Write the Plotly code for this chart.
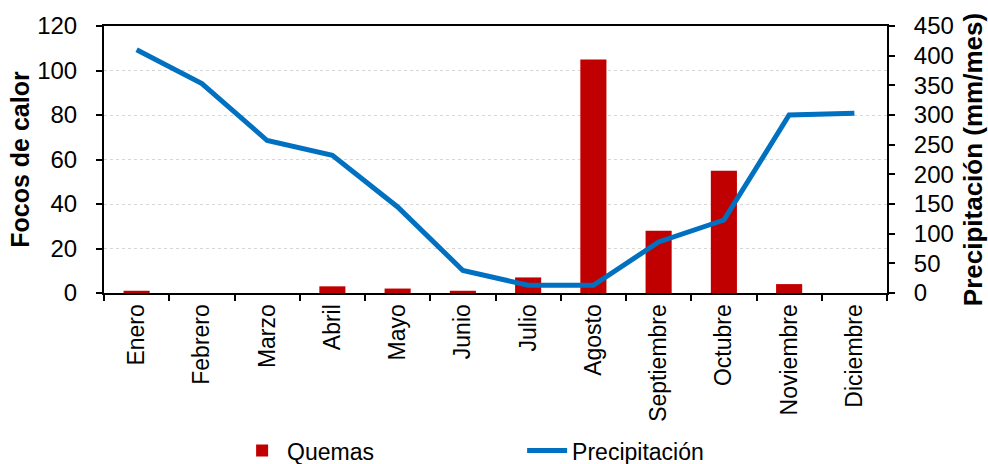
import plotly.graph_objects as go

# Monthly data
meses = ["Enero", "Febrero", "Marzo", "Abril", "Mayo", "Junio", "Julio",
         "Agosto", "Septiembre", "Octubre", "Noviembre", "Diciembre"]
quemas = [1, 0, 0, 3, 2, 1, 7, 105, 28, 55, 4, 0]
precipitacion = [410, 353, 257, 232, 145, 38, 13, 13, 86, 123, 300, 303]

FONT = "Liberation Sans, Arial, sans-serif"
RED = "#C00000"
BLUE = "#0070C0"

fig = go.Figure()
fig.add_trace(go.Bar(
    x=meses, y=quemas, name="Quemas",
    marker=dict(color=RED, line=dict(width=0)),
    width=0.4, yaxis="y",
))
fig.add_trace(go.Scatter(
    x=meses, y=precipitacion, name="Precipitación",
    mode="lines", line=dict(color=BLUE, width=5),
    yaxis="y2",
))

fig.update_layout(
    width=988, height=464,
    margin=dict(l=104, r=101, t=26, b=171, autoexpand=False),
    paper_bgcolor="white", plot_bgcolor="white",
    font=dict(family=FONT, size=23, color="black"),
    showlegend=True,
    legend=dict(
        orientation="h", x=0.170, xanchor="left", y=-0.51, yanchor="top",
        font=dict(size=23), entrywidth=230, entrywidthmode="pixels",
        itemwidth=40, traceorder="normal",
    ),
    xaxis=dict(
        type="category", showline=True, linecolor="black", linewidth=2,
        mirror=True, ticks="outside", ticklen=6, tickwidth=2, tickcolor="black",
        tickson="boundaries", tickangle=-90, showgrid=False, automargin=False,
        tickfont=dict(size=23),
    ),
    yaxis=dict(
        range=[0, 120], dtick=20, showline=True, linecolor="black", linewidth=2,
        ticks="outside", ticklen=6, tickwidth=2, tickcolor="black",
        showgrid=True, gridcolor="#d6d6d6", griddash="dot", gridwidth=1,
        zeroline=False, tickfont=dict(size=24), ticklabelstandoff=14,
        automargin=False,
        title=dict(text="<b>Focos de calor</b>", font=dict(size=25), standoff=0),
    ),
    yaxis2=dict(
        range=[0, 450], dtick=50, overlaying="y", side="right",
        showline=True, linecolor="black", linewidth=2,
        ticks="outside", ticklen=6, tickwidth=2, tickcolor="black",
        showgrid=False, zeroline=False, tickfont=dict(size=24), ticklabelstandoff=14,
        automargin=False,
        title=dict(text="<b>Precipitación (mm/mes)</b>", font=dict(size=26), standoff=13),
    ),
    bargap=0.6,
)

fig.write_html("out.html")
